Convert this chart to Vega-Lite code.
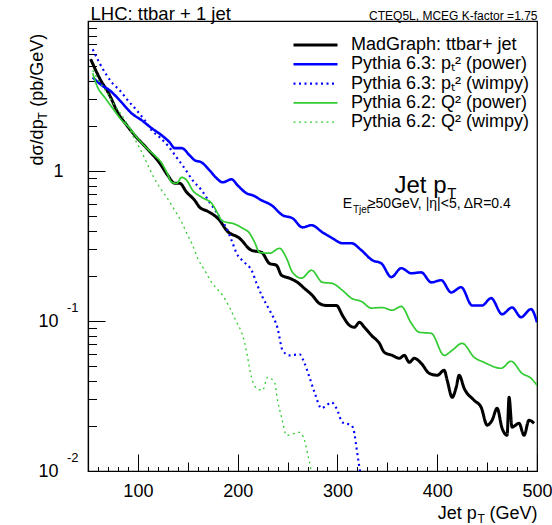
{
"$schema": "https://vega.github.io/schema/vega-lite/v6.json",
"width": 449, "height": 450,
"autosize": {"type": "none"},
"padding": {"left": 88, "top": 21, "right": 15, "bottom": 54},
"background": "white",
"datasets": {
"curves": [
{"series":"MadGraph: ttbar+ jet","pt":52.7,"value":5.56},{"series":"MadGraph: ttbar+ jet","pt":61.7,"value":4.15},{"series":"MadGraph: ttbar+ jet","pt":71.7,"value":3.2},{"series":"MadGraph: ttbar+ jet","pt":79.7,"value":2.46},{"series":"MadGraph: ttbar+ jet","pt":88.8,"value":2.02},{"series":"MadGraph: ttbar+ jet","pt":96.8,"value":1.73},{"series":"MadGraph: ttbar+ jet","pt":108.8,"value":1.42},{"series":"MadGraph: ttbar+ jet","pt":121.8,"value":1.13},{"series":"MadGraph: ttbar+ jet","pt":129.9,"value":0.936},{"series":"MadGraph: ttbar+ jet","pt":136.9,"value":0.828},{"series":"MadGraph: ttbar+ jet","pt":141.9,"value":0.828},{"series":"MadGraph: ttbar+ jet","pt":148.9,"value":0.721},{"series":"MadGraph: ttbar+ jet","pt":156.9,"value":0.638},{"series":"MadGraph: ttbar+ jet","pt":161.9,"value":0.573},{"series":"MadGraph: ttbar+ jet","pt":169.9,"value":0.539},{"series":"MadGraph: ttbar+ jet","pt":181.9,"value":0.469},{"series":"MadGraph: ttbar+ jet","pt":188.9,"value":0.402},{"series":"MadGraph: ttbar+ jet","pt":201.9,"value":0.356},{"series":"MadGraph: ttbar+ jet","pt":213.9,"value":0.296},{"series":"MadGraph: ttbar+ jet","pt":223.9,"value":0.287},{"series":"MadGraph: ttbar+ jet","pt":231.9,"value":0.242},{"series":"MadGraph: ttbar+ jet","pt":238.9,"value":0.235},{"series":"MadGraph: ttbar+ jet","pt":243.9,"value":0.202},{"series":"MadGraph: ttbar+ jet","pt":251.9,"value":0.193},{"series":"MadGraph: ttbar+ jet","pt":259.9,"value":0.181},{"series":"MadGraph: ttbar+ jet","pt":266.9,"value":0.165},{"series":"MadGraph: ttbar+ jet","pt":274.9,"value":0.148},{"series":"MadGraph: ttbar+ jet","pt":281.9,"value":0.131},{"series":"MadGraph: ttbar+ jet","pt":288.9,"value":0.127},{"series":"MadGraph: ttbar+ jet","pt":299,"value":0.127},{"series":"MadGraph: ttbar+ jet","pt":305,"value":0.109},{"series":"MadGraph: ttbar+ jet","pt":312,"value":0.0936},{"series":"MadGraph: ttbar+ jet","pt":317,"value":0.0908},{"series":"MadGraph: ttbar+ jet","pt":322,"value":0.098},{"series":"MadGraph: ttbar+ jet","pt":327,"value":0.0908},{"series":"MadGraph: ttbar+ jet","pt":334,"value":0.0803},{"series":"MadGraph: ttbar+ jet","pt":342,"value":0.071},{"series":"MadGraph: ttbar+ jet","pt":347,"value":0.0618},{"series":"MadGraph: ttbar+ jet","pt":355,"value":0.059},{"series":"MadGraph: ttbar+ jet","pt":362,"value":0.0564},{"series":"MadGraph: ttbar+ jet","pt":367,"value":0.059},{"series":"MadGraph: ttbar+ jet","pt":372,"value":0.053},{"series":"MadGraph: ttbar+ jet","pt":377,"value":0.0564},{"series":"MadGraph: ttbar+ jet","pt":384,"value":0.0522},{"series":"MadGraph: ttbar+ jet","pt":392,"value":0.0448},{"series":"MadGraph: ttbar+ jet","pt":400,"value":0.0435},{"series":"MadGraph: ttbar+ jet","pt":407,"value":0.0469},{"series":"MadGraph: ttbar+ jet","pt":410,"value":0.0402},{"series":"MadGraph: ttbar+ jet","pt":415,"value":0.031},{"series":"MadGraph: ttbar+ jet","pt":419,"value":0.0361},{"series":"MadGraph: ttbar+ jet","pt":422,"value":0.0435},{"series":"MadGraph: ttbar+ jet","pt":427,"value":0.0356},{"series":"MadGraph: ttbar+ jet","pt":437,"value":0.0296},{"series":"MadGraph: ttbar+ jet","pt":444,"value":0.0266},{"series":"MadGraph: ttbar+ jet","pt":450,"value":0.0202},{"series":"MadGraph: ttbar+ jet","pt":455,"value":0.0218},{"series":"MadGraph: ttbar+ jet","pt":460,"value":0.0262},{"series":"MadGraph: ttbar+ jet","pt":465,"value":0.0193},{"series":"MadGraph: ttbar+ jet","pt":470,"value":0.0173},{"series":"MadGraph: ttbar+ jet","pt":472,"value":0.031},{"series":"MadGraph: ttbar+ jet","pt":475,"value":0.0196},{"series":"MadGraph: ttbar+ jet","pt":482,"value":0.0208},{"series":"MadGraph: ttbar+ jet","pt":487,"value":0.0173},{"series":"MadGraph: ttbar+ jet","pt":492,"value":0.0218},{"series":"MadGraph: ttbar+ jet","pt":497,"value":0.0208},
{"series":"Pythia 6.3: pₜ² (power)","pt":54.7,"value":4.21},{"series":"Pythia 6.3: pₜ² (power)","pt":63.7,"value":3.73},{"series":"Pythia 6.3: pₜ² (power)","pt":71.7,"value":3.45},{"series":"Pythia 6.3: pₜ² (power)","pt":81.8,"value":2.96},{"series":"Pythia 6.3: pₜ² (power)","pt":93.8,"value":2.42},{"series":"Pythia 6.3: pₜ² (power)","pt":103.8,"value":2.18},{"series":"Pythia 6.3: pₜ² (power)","pt":113.8,"value":1.93},{"series":"Pythia 6.3: pₜ² (power)","pt":123.8,"value":1.73},{"series":"Pythia 6.3: pₜ² (power)","pt":131.9,"value":1.55},{"series":"Pythia 6.3: pₜ² (power)","pt":136.9,"value":1.42},{"series":"Pythia 6.3: pₜ² (power)","pt":143.9,"value":1.42},{"series":"Pythia 6.3: pₜ² (power)","pt":151.9,"value":1.27},{"series":"Pythia 6.3: pₜ² (power)","pt":156.9,"value":1.18},{"series":"Pythia 6.3: pₜ² (power)","pt":163.9,"value":1.14},{"series":"Pythia 6.3: pₜ² (power)","pt":171.9,"value":1.01},{"series":"Pythia 6.3: pₜ² (power)","pt":178.9,"value":0.894},{"series":"Pythia 6.3: pₜ² (power)","pt":184.9,"value":0.841},{"series":"Pythia 6.3: pₜ² (power)","pt":193.9,"value":0.88},{"series":"Pythia 6.3: pₜ² (power)","pt":199.9,"value":0.803},{"series":"Pythia 6.3: pₜ² (power)","pt":209,"value":0.71},{"series":"Pythia 6.3: pₜ² (power)","pt":215,"value":0.689},{"series":"Pythia 6.3: pₜ² (power)","pt":224,"value":0.638},{"series":"Pythia 6.3: pₜ² (power)","pt":234,"value":0.591},{"series":"Pythia 6.3: pₜ² (power)","pt":245,"value":0.507},{"series":"Pythia 6.3: pₜ² (power)","pt":255,"value":0.484},{"series":"Pythia 6.3: pₜ² (power)","pt":265,"value":0.421},{"series":"Pythia 6.3: pₜ² (power)","pt":274,"value":0.435},{"series":"Pythia 6.3: pₜ² (power)","pt":285,"value":0.39},{"series":"Pythia 6.3: pₜ² (power)","pt":295,"value":0.356},{"series":"Pythia 6.3: pₜ² (power)","pt":305,"value":0.33},{"series":"Pythia 6.3: pₜ² (power)","pt":314,"value":0.33},{"series":"Pythia 6.3: pₜ² (power)","pt":324,"value":0.296},{"series":"Pythia 6.3: pₜ² (power)","pt":335,"value":0.254},{"series":"Pythia 6.3: pₜ² (power)","pt":344,"value":0.242},{"series":"Pythia 6.3: pₜ² (power)","pt":354,"value":0.196},{"series":"Pythia 6.3: pₜ² (power)","pt":364,"value":0.225},{"series":"Pythia 6.3: pₜ² (power)","pt":374,"value":0.208},{"series":"Pythia 6.3: pₜ² (power)","pt":384,"value":0.211},{"series":"Pythia 6.3: pₜ² (power)","pt":394,"value":0.181},{"series":"Pythia 6.3: pₜ² (power)","pt":404,"value":0.187},{"series":"Pythia 6.3: pₜ² (power)","pt":414,"value":0.155},{"series":"Pythia 6.3: pₜ² (power)","pt":424,"value":0.168},{"series":"Pythia 6.3: pₜ² (power)","pt":435,"value":0.127},{"series":"Pythia 6.3: pₜ² (power)","pt":445,"value":0.127},{"series":"Pythia 6.3: pₜ² (power)","pt":454,"value":0.142},{"series":"Pythia 6.3: pₜ² (power)","pt":465,"value":0.111},{"series":"Pythia 6.3: pₜ² (power)","pt":475,"value":0.123},{"series":"Pythia 6.3: pₜ² (power)","pt":484,"value":0.106},{"series":"Pythia 6.3: pₜ² (power)","pt":494,"value":0.12},{"series":"Pythia 6.3: pₜ² (power)","pt":500,"value":0.098},
{"series":"Pythia 6.3: pₜ² (wimpy)","pt":54.7,"value":6.48},{"series":"Pythia 6.3: pₜ² (wimpy)","pt":61.7,"value":5.22},{"series":"Pythia 6.3: pₜ² (wimpy)","pt":68.7,"value":4.35},{"series":"Pythia 6.3: pₜ² (wimpy)","pt":74.7,"value":3.84},{"series":"Pythia 6.3: pₜ² (wimpy)","pt":81.8,"value":3.45},{"series":"Pythia 6.3: pₜ² (wimpy)","pt":89.8,"value":2.96},{"series":"Pythia 6.3: pₜ² (wimpy)","pt":98.8,"value":2.54},{"series":"Pythia 6.3: pₜ² (wimpy)","pt":106.8,"value":2.18},{"series":"Pythia 6.3: pₜ² (wimpy)","pt":113.8,"value":1.87},{"series":"Pythia 6.3: pₜ² (wimpy)","pt":121.8,"value":1.68},{"series":"Pythia 6.3: pₜ² (wimpy)","pt":129.9,"value":1.48},{"series":"Pythia 6.3: pₜ² (wimpy)","pt":138.9,"value":1.23},{"series":"Pythia 6.3: pₜ² (wimpy)","pt":146.9,"value":1.04},{"series":"Pythia 6.3: pₜ² (wimpy)","pt":154.9,"value":0.867},{"series":"Pythia 6.3: pₜ² (wimpy)","pt":163.9,"value":0.743},{"series":"Pythia 6.3: pₜ² (wimpy)","pt":171.9,"value":0.618},{"series":"Pythia 6.3: pₜ² (wimpy)","pt":178.9,"value":0.531},{"series":"Pythia 6.3: pₜ² (wimpy)","pt":183.9,"value":0.469},{"series":"Pythia 6.3: pₜ² (wimpy)","pt":188.9,"value":0.415},{"series":"Pythia 6.3: pₜ² (wimpy)","pt":193.9,"value":0.345},{"series":"Pythia 6.3: pₜ² (wimpy)","pt":198.9,"value":0.283},{"series":"Pythia 6.3: pₜ² (wimpy)","pt":206.9,"value":0.246},{"series":"Pythia 6.3: pₜ² (wimpy)","pt":213.9,"value":0.218},{"series":"Pythia 6.3: pₜ² (wimpy)","pt":219,"value":0.178},{"series":"Pythia 6.3: pₜ² (wimpy)","pt":225,"value":0.144},{"series":"Pythia 6.3: pₜ² (wimpy)","pt":232,"value":0.118},{"series":"Pythia 6.3: pₜ² (wimpy)","pt":240,"value":0.0894},{"series":"Pythia 6.3: pₜ² (wimpy)","pt":245,"value":0.0638},{"series":"Pythia 6.3: pₜ² (wimpy)","pt":252,"value":0.059},{"series":"Pythia 6.3: pₜ² (wimpy)","pt":262,"value":0.06},{"series":"Pythia 6.3: pₜ² (wimpy)","pt":267,"value":0.0522},{"series":"Pythia 6.3: pₜ² (wimpy)","pt":272,"value":0.0421},{"series":"Pythia 6.3: pₜ² (wimpy)","pt":277,"value":0.0335},{"series":"Pythia 6.3: pₜ² (wimpy)","pt":284,"value":0.0262},{"series":"Pythia 6.3: pₜ² (wimpy)","pt":289,"value":0.0274},{"series":"Pythia 6.3: pₜ² (wimpy)","pt":294,"value":0.0287},{"series":"Pythia 6.3: pₜ² (wimpy)","pt":299,"value":0.0262},{"series":"Pythia 6.3: pₜ² (wimpy)","pt":305,"value":0.0211},{"series":"Pythia 6.3: pₜ² (wimpy)","pt":314,"value":0.0202},{"series":"Pythia 6.3: pₜ² (wimpy)","pt":317,"value":0.0178},{"series":"Pythia 6.3: pₜ² (wimpy)","pt":319,"value":0.0144},{"series":"Pythia 6.3: pₜ² (wimpy)","pt":322,"value":0.0106},{"series":"Pythia 6.3: pₜ² (wimpy)","pt":325,"value":0.008},
{"series":"Pythia 6.2: Q² (power)","pt":54.7,"value":4.48},{"series":"Pythia 6.2: Q² (power)","pt":59.7,"value":3.61},{"series":"Pythia 6.2: Q² (power)","pt":66.7,"value":3.1},{"series":"Pythia 6.2: Q² (power)","pt":74.7,"value":2.62},{"series":"Pythia 6.2: Q² (power)","pt":83.8,"value":2.18},{"series":"Pythia 6.2: Q² (power)","pt":91.8,"value":1.93},{"series":"Pythia 6.2: Q² (power)","pt":99.8,"value":1.65},{"series":"Pythia 6.2: Q² (power)","pt":108.8,"value":1.42},{"series":"Pythia 6.2: Q² (power)","pt":116.8,"value":1.27},{"series":"Pythia 6.2: Q² (power)","pt":123.8,"value":1.13},{"series":"Pythia 6.2: Q² (power)","pt":128.9,"value":0.98},{"series":"Pythia 6.2: Q² (power)","pt":133.9,"value":0.841},{"series":"Pythia 6.2: Q² (power)","pt":138.9,"value":0.828},{"series":"Pythia 6.2: Q² (power)","pt":143.9,"value":0.908},{"series":"Pythia 6.2: Q² (power)","pt":148.9,"value":0.867},{"series":"Pythia 6.2: Q² (power)","pt":154.9,"value":0.743},{"series":"Pythia 6.2: Q² (power)","pt":163.9,"value":0.668},{"series":"Pythia 6.2: Q² (power)","pt":173.9,"value":0.609},{"series":"Pythia 6.2: Q² (power)","pt":179.9,"value":0.523},{"series":"Pythia 6.2: Q² (power)","pt":183.9,"value":0.469},{"series":"Pythia 6.2: Q² (power)","pt":188.9,"value":0.455},{"series":"Pythia 6.2: Q² (power)","pt":194.9,"value":0.448},{"series":"Pythia 6.2: Q² (power)","pt":205,"value":0.415},{"series":"Pythia 6.2: Q² (power)","pt":212,"value":0.384},{"series":"Pythia 6.2: Q² (power)","pt":217,"value":0.335},{"series":"Pythia 6.2: Q² (power)","pt":222,"value":0.287},{"series":"Pythia 6.2: Q² (power)","pt":232,"value":0.283},{"series":"Pythia 6.2: Q² (power)","pt":242,"value":0.305},{"series":"Pythia 6.2: Q² (power)","pt":249,"value":0.262},{"series":"Pythia 6.2: Q² (power)","pt":255,"value":0.211},{"series":"Pythia 6.2: Q² (power)","pt":264,"value":0.193},{"series":"Pythia 6.2: Q² (power)","pt":274,"value":0.218},{"series":"Pythia 6.2: Q² (power)","pt":285,"value":0.181},{"series":"Pythia 6.2: Q² (power)","pt":295,"value":0.178},{"series":"Pythia 6.2: Q² (power)","pt":305,"value":0.16},{"series":"Pythia 6.2: Q² (power)","pt":314,"value":0.142},{"series":"Pythia 6.2: Q² (power)","pt":324,"value":0.135},{"series":"Pythia 6.2: Q² (power)","pt":334,"value":0.122},{"series":"Pythia 6.2: Q² (power)","pt":345,"value":0.123},{"series":"Pythia 6.2: Q² (power)","pt":355,"value":0.118},{"series":"Pythia 6.2: Q² (power)","pt":364,"value":0.125},{"series":"Pythia 6.2: Q² (power)","pt":374,"value":0.0966},{"series":"Pythia 6.2: Q² (power)","pt":382,"value":0.0841},{"series":"Pythia 6.2: Q² (power)","pt":394,"value":0.0828},{"series":"Pythia 6.2: Q² (power)","pt":407,"value":0.059},{"series":"Pythia 6.2: Q² (power)","pt":415,"value":0.0638},{"series":"Pythia 6.2: Q² (power)","pt":425,"value":0.071},{"series":"Pythia 6.2: Q² (power)","pt":437,"value":0.0573},{"series":"Pythia 6.2: Q² (power)","pt":447,"value":0.053},{"series":"Pythia 6.2: Q² (power)","pt":464,"value":0.0484},{"series":"Pythia 6.2: Q² (power)","pt":474,"value":0.0539},{"series":"Pythia 6.2: Q² (power)","pt":485,"value":0.0448},{"series":"Pythia 6.2: Q² (power)","pt":494,"value":0.0415},{"series":"Pythia 6.2: Q² (power)","pt":500,"value":0.0373},
{"series":"Pythia 6.2: Q² (wimpy)","pt":54.7,"value":4.69},{"series":"Pythia 6.2: Q² (wimpy)","pt":61.7,"value":3.9},{"series":"Pythia 6.2: Q² (wimpy)","pt":68.7,"value":3.35},{"series":"Pythia 6.2: Q² (wimpy)","pt":74.7,"value":2.87},{"series":"Pythia 6.2: Q² (wimpy)","pt":81.8,"value":2.46},{"series":"Pythia 6.2: Q² (wimpy)","pt":88.8,"value":2.08},{"series":"Pythia 6.2: Q² (wimpy)","pt":94.8,"value":1.73},{"series":"Pythia 6.2: Q² (wimpy)","pt":101.8,"value":1.42},{"series":"Pythia 6.2: Q² (wimpy)","pt":108.8,"value":1.14},{"series":"Pythia 6.2: Q² (wimpy)","pt":113.8,"value":0.965},{"series":"Pythia 6.2: Q² (wimpy)","pt":121.8,"value":0.778},{"series":"Pythia 6.2: Q² (wimpy)","pt":128.9,"value":0.668},{"series":"Pythia 6.2: Q² (wimpy)","pt":136.9,"value":0.547},{"series":"Pythia 6.2: Q² (wimpy)","pt":143.9,"value":0.455},{"series":"Pythia 6.2: Q² (wimpy)","pt":149.9,"value":0.373},{"series":"Pythia 6.2: Q² (wimpy)","pt":154.9,"value":0.32},{"series":"Pythia 6.2: Q² (wimpy)","pt":159.9,"value":0.262},{"series":"Pythia 6.2: Q² (wimpy)","pt":166.9,"value":0.218},{"series":"Pythia 6.2: Q² (wimpy)","pt":173.9,"value":0.181},{"series":"Pythia 6.2: Q² (wimpy)","pt":178.9,"value":0.165},{"series":"Pythia 6.2: Q² (wimpy)","pt":184.9,"value":0.148},{"series":"Pythia 6.2: Q² (wimpy)","pt":191.9,"value":0.123},{"series":"Pythia 6.2: Q² (wimpy)","pt":198.9,"value":0.098},{"series":"Pythia 6.2: Q² (wimpy)","pt":203.9,"value":0.0841},{"series":"Pythia 6.2: Q² (wimpy)","pt":206.9,"value":0.0721},{"series":"Pythia 6.2: Q² (wimpy)","pt":209.9,"value":0.0573},{"series":"Pythia 6.2: Q² (wimpy)","pt":213.9,"value":0.0421},{"series":"Pythia 6.2: Q² (wimpy)","pt":219,"value":0.0356},{"series":"Pythia 6.2: Q² (wimpy)","pt":225,"value":0.0345},{"series":"Pythia 6.2: Q² (wimpy)","pt":230,"value":0.0421},{"series":"Pythia 6.2: Q² (wimpy)","pt":237,"value":0.039},{"series":"Pythia 6.2: Q² (wimpy)","pt":240,"value":0.0296},{"series":"Pythia 6.2: Q² (wimpy)","pt":244,"value":0.0228},{"series":"Pythia 6.2: Q² (wimpy)","pt":249,"value":0.0173},{"series":"Pythia 6.2: Q² (wimpy)","pt":257,"value":0.0178},{"series":"Pythia 6.2: Q² (wimpy)","pt":262,"value":0.0181},{"series":"Pythia 6.2: Q² (wimpy)","pt":267,"value":0.016},{"series":"Pythia 6.2: Q² (wimpy)","pt":270,"value":0.0131},{"series":"Pythia 6.2: Q² (wimpy)","pt":273,"value":0.0106},{"series":"Pythia 6.2: Q² (wimpy)","pt":276,"value":0.008}
],
"notes": [
{"id":"a","pt":357.2,"value":0.71,"text":"Jet p"},
{"id":"b","pt":410,"value":0.658,"text":"T"},
{"id":"c","pt":305.2,"value":0.564,"text":"E"},
{"id":"d","pt":315.5,"value":0.522,"text":"Tjet"},
{"id":"e","pt":330.5,"value":0.564,"text":"≥50GeV, |η|<5, ΔR=0.4"}
]
},
"layer": [
{
"data": {"name": "curves"},
"mark": {"type": "line", "interpolate": "monotone", "clip": true},
"encoding": {
"x": {"field": "pt", "type": "quantitative", "scale": {"domain": [50, 500], "nice": false, "zero": false},
 "axis": {"values": [50,60,70,80,90,100,110,120,130,140,150,160,170,180,190,200,210,220,230,240,250,260,270,280,290,300,310,320,330,340,350,360,370,380,390,400,410,420,430,440,450,460,470,480,490,500],
  "labelExpr": "datum.value % 100 === 0 ? '' + datum.value : ''",
  "tickSize": {"condition": [{"test": "datum.value % 100 === 0", "value": -17}, {"test": "datum.value % 50 === 0", "value": -9}], "value": -4.5},
  "labelPadding": 28, "labelFontSize": 18, "labelFlush": false, "labelOverlap": false, "labelBaseline": "top",
  "title": "Jet p\u2002\u2009(GeV)", "titleFontSize": 18, "titleAlign": "right", "titleAnchor": null, "titleX": 449, "titleY": 47, "titleBaseline": "alphabetic", "titleAngle": 0}},
"y": {"field": "value", "type": "quantitative", "scale": {"type": "log", "domain": [0.01, 10], "nice": false},
 "axis": {"values": [0.01,0.02,0.03,0.04,0.05,0.06,0.07,0.08,0.09,0.1,0.2,0.3,0.4,0.5,0.6,0.7,0.8,0.9,1,2,3,4,5,6,7,8,9],
  "labelExpr": "datum.value == 1 ? '1' : ((datum.value == 0.1 || datum.value == 0.01) ? '10' : '')",
  "tickSize": {"condition": {"test": "datum.value == 0.01 || datum.value == 0.1 || datum.value == 1", "value": -17}, "value": -8.5},
  "labelPadding": {"condition": {"test": "datum.value == 1", "value": 42}, "value": 47},
  "labelFontSize": 18, "labelFlush": false, "labelOverlap": false, "labelAlign": "right", "labelBaseline": "middle",
  "title": "dσ/dp\u2002\u2009(pb/GeV)", "titleFontSize": 18, "titleAngle": -90, "titleAlign": "left", "titleAnchor": null, "titleX": -46, "titleY": 144, "titleBaseline": "alphabetic"}},
"color": {"field": "series", "type": "nominal",
 "scale": {"domain": ["MadGraph: ttbar+ jet","Pythia 6.3: pₜ² (power)","Pythia 6.3: pₜ² (wimpy)","Pythia 6.2: Q² (power)","Pythia 6.2: Q² (wimpy)"], "range": ["#000000","#0000ff","#0000ff","#33cc33","#33cc33"]},
 "legend": {"orient": "none", "legendX": 218.5, "legendY": 15, "title": null, "symbolType": "M-4,0H4", "symbolSize": 121, "labelFontSize": 18, "labelOffset": 26.5, "rowPadding": 1.3, "labelColor": "black", "padding": 0, "labelLimit": 400}},
"strokeDash": {"field": "series", "type": "nominal",
 "scale": {"domain": ["MadGraph: ttbar+ jet","Pythia 6.3: pₜ² (power)","Pythia 6.3: pₜ² (wimpy)","Pythia 6.2: Q² (power)","Pythia 6.2: Q² (wimpy)"], "range": [[1,0],[1,0],[2,3.5],[1,0],[2,3.5]]}},
"strokeWidth": {"field": "series", "type": "nominal",
 "scale": {"domain": ["MadGraph: ttbar+ jet","Pythia 6.3: pₜ² (power)","Pythia 6.3: pₜ² (wimpy)","Pythia 6.2: Q² (power)","Pythia 6.2: Q² (wimpy)"], "range": [3,1.3,1.7,1.3,1.7]}}
}
},
{
"data": {"name": "notes"},
"transform": [{"filter": "datum.id == 'a'"}],
"mark": {"type": "text", "fontSize": 24, "align": "left", "baseline": "alphabetic", "font": "Liberation Sans", "color": "black"},
"encoding": {
"x": {"field": "pt", "type": "quantitative", "axis": {"orient": "bottom", "domain": false, "ticks": false, "labels": false, "grid": false, "title": "T", "titleFontSize": 12, "titleX": 389, "titleY": 51, "titleAlign": "left", "titleAnchor": null, "titleBaseline": "alphabetic", "titleAngle": 0}},
"y": {"field": "value", "type": "quantitative", "axis": {"orient": "left", "values": [0.1, 0.01], "labelExpr": "datum.value == 0.1 ? '-1' : '-2'", "domain": false, "ticks": false, "grid": false, "labelAlign": "left", "labelBaseline": "middle", "labelPadding": 21.5, "labelOffset": -14, "labelFontSize": 13, "labelFlush": false, "labelOverlap": false, "title": "T", "titleFontSize": 12, "titleAngle": -90, "titleAlign": "left", "titleAnchor": null, "titleBaseline": "alphabetic", "titleX": -42, "titleY": 98}},
"text": {"field": "text"}
}
},
{
"data": {"name": "notes"},
"transform": [{"filter": "datum.id == 'b'"}],
"mark": {"type": "text", "fontSize": 15, "align": "left", "baseline": "alphabetic", "font": "Liberation Sans", "color": "black"},
"encoding": {
"x": {"field": "pt", "type": "quantitative", "axis": {"orient": "top", "domain": false, "ticks": false, "labels": false, "grid": false, "title": "CTEQ5L, MCEG K-factor =1.75", "titleFontSize": 12, "titleX": 449, "titleY": -2, "titleAlign": "right", "titleAnchor": null, "titleBaseline": "alphabetic", "titleAngle": 0}},
"y": {"field": "value", "type": "quantitative", "axis": null},
"text": {"field": "text"}
}
},
{
"data": {"name": "notes"},
"transform": [{"filter": "datum.id == 'c' || datum.id == 'e'"}],
"mark": {"type": "text", "fontSize": 14, "align": "left", "baseline": "alphabetic", "font": "Liberation Sans", "color": "black"},
"encoding": {
"x": {"field": "pt", "type": "quantitative", "axis": {"orient": "top", "domain": false, "ticks": false, "labels": false, "grid": false, "title": "LHC: ttbar + 1 jet", "titleFontSize": 18.5, "titleX": 2, "titleY": -2, "titleAlign": "left", "titleAnchor": null, "titleBaseline": "alphabetic", "titleAngle": 0}},
"y": {"field": "value", "type": "quantitative", "axis": null},
"text": {"field": "text"}
}
},
{
"data": {"name": "notes"},
"transform": [{"filter": "datum.id == 'd'"}],
"mark": {"type": "text", "fontSize": 10, "align": "left", "baseline": "alphabetic", "font": "Liberation Sans", "color": "black"},
"encoding": {
"x": {"field": "pt", "type": "quantitative", "axis": null},
"y": {"field": "value", "type": "quantitative", "axis": null},
"text": {"field": "text"}
}
}
],
"resolve": {"axis": {"x": "independent", "y": "independent"}},
"config": {
"font": "Liberation Sans",
"view": {"stroke": "black", "strokeWidth": 1.2},
"axis": {"labelFont": "Liberation Sans", "titleFont": "Liberation Sans", "labelColor": "black", "titleColor": "black", "domainColor": "black", "tickColor": "black", "titleFontWeight": "normal", "grid": false, "tickWidth": 1, "domainWidth": 1.2},
"legend": {"labelFont": "Liberation Sans"}
}
}
